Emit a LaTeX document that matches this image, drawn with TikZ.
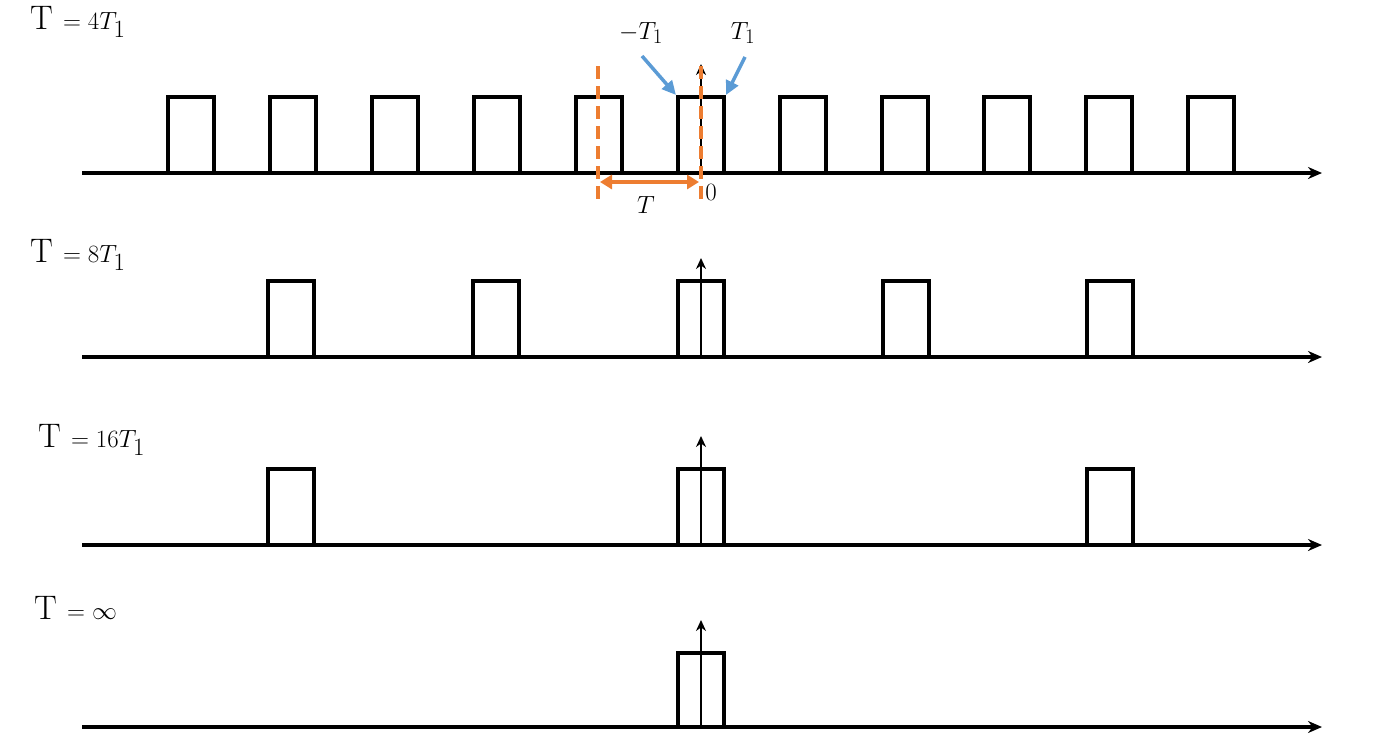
\documentclass[tikz,border=0pt]{standalone}
\usetikzlibrary{arrows.meta}
\begin{document}
\begin{tikzpicture}[x=1pt,y=-1pt,
  pulse/.style={line width=3.8pt},
  axis/.style={line width=3.8pt,-{Stealth[length=14pt,width=12pt]}},
  imp/.style={line width=2.5pt,-{Stealth[length=11pt,width=10pt]}},
  od/.style={draw={rgb,255:red,237;green,125;blue,49},line width=4pt,dash pattern=on 13pt off 7pt},
  lab/.style={font=\fontsize{34}{40}\selectfont,anchor=west,inner sep=0pt},
  blue/.style={draw={rgb,255:red,91;green,155;blue,213},line width=3.5pt,-{Triangle[length=14pt,width=13pt]}}]
\useasboundingbox (0,0) rectangle (1374,753);
\newcommand{\pul}[3]{\draw[pulse] (#1-23,#2) -- (#1-23,#3) -- (#1+23,#3) -- (#1+23,#2);}
% row 1
\foreach \c in {191,293,395,497,599,701,803,905,1007,1109,1211} {\pul{\c}{173}{97}}
\coordinate (a1s) at (82,173); \coordinate (a1e) at (1322,173);
\draw[axis] (a1s) -- (a1e);
\coordinate (i1a) at (701,173); \coordinate (i1b) at (701,64);
\draw[imp] (i1a) -- (i1b);
\node[lab] (l1) at (30,22) {T $=4T_1$};
% row 2
\foreach \c in {291,496,701,906,1110} {\pul{\c}{357}{281}}
\coordinate (a2s) at (82,357); \coordinate (a2e) at (1322,357);
\draw[axis] (a2s) -- (a2e);
\coordinate (i2a) at (701,357); \coordinate (i2b) at (701,258);
\draw[imp] (i2a) -- (i2b);
\node[lab] (l2) at (30,255) {T $=8T_1$};
% row 3
\foreach \c in {291,701,1110} {\pul{\c}{545}{469}}
\coordinate (a3s) at (82,545); \coordinate (a3e) at (1322,545);
\draw[axis] (a3s) -- (a3e);
\coordinate (i3a) at (701,545); \coordinate (i3b) at (701,436);
\draw[imp] (i3a) -- (i3b);
\node[lab] (l3) at (38,440) {T $=16T_1$};
% row 4
\pul{701}{727}{653}
\coordinate (a4s) at (82,727); \coordinate (a4e) at (1322,727);
\draw[axis] (a4s) -- (a4e);
\coordinate (i4a) at (701,727); \coordinate (i4b) at (701,620);
\draw[imp] (i4a) -- (i4b);
\node[lab] (l4) at (34,608) {T $=\infty$};
% orange
\coordinate (o1t) at (598,66); \coordinate (o1b) at (598,204);
\coordinate (o2t) at (701,66); \coordinate (o2b) at (701,204);
\draw[od] (o1t) -- (o1b);
\draw[od] (o2t) -- (o2b);
\coordinate (ha) at (600,182); \coordinate (hb) at (699,182);
\draw[draw={rgb,255:red,237;green,125;blue,49},line width=4pt,{Triangle[length=12pt,width=14pt]}-{Triangle[length=12pt,width=14pt]}] (ha) -- (hb);
\node[font=\fontsize{34}{40}\selectfont,inner sep=0pt] (tl) at (646,205) {$T$};
\node[font=\fontsize{28}{34}\selectfont,inner sep=0pt] (zero) at (711,192) {$0$};
% blue
\node[font=\fontsize{32}{38}\selectfont,inner sep=0pt] (mt) at (641,33) {$-T_1$};
\node[font=\fontsize{32}{38}\selectfont,inner sep=0pt] (pt) at (743,33) {$T_1$};
\coordinate (b1s) at (642,56); \coordinate (b1e) at (676,95);
\coordinate (b2s) at (745,57); \coordinate (b2e) at (726,95);
\draw[blue] (b1s) -- (b1e);
\draw[blue] (b2s) -- (b2e);
\end{tikzpicture}
\end{document}
